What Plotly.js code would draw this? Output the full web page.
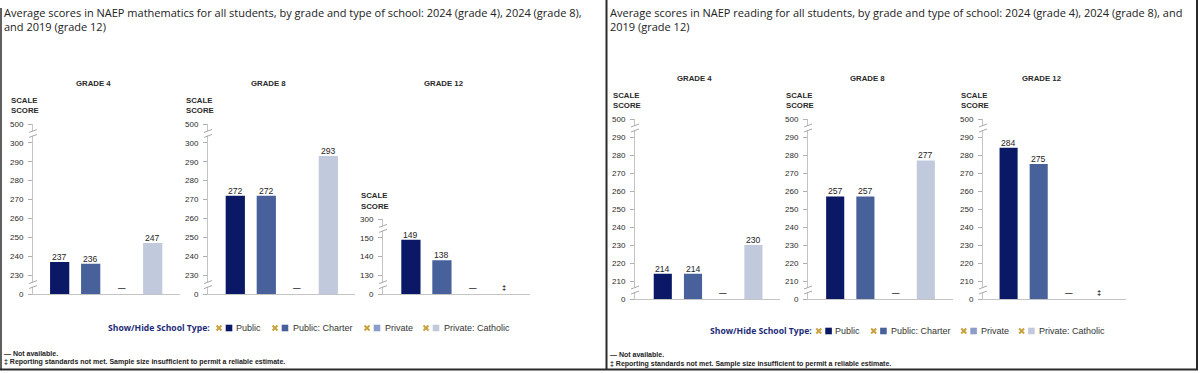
<!DOCTYPE html>
<html><head><meta charset="utf-8">
<script src="https://cdn.plot.ly/plotly-3.0.1.min.js"></script>
<style>html,body{margin:0;padding:0;background:#fff;}#chart{width:1200px;height:373px;}</style>
</head><body><div id="chart"></div>
<script>
// ---------------- DATA ----------------
const schoolTypes = ['Public', 'Public: Charter', 'Private', 'Private: Catholic'];
const gradeLabels = ['GRADE 4', 'GRADE 8', 'GRADE 12'];

const mathTitleLines = ['Average scores in NAEP mathematics for all students, by grade and type of school: 2024 (grade 4), 2024 (grade 8),', 'and 2019 (grade 12)'];
const readTitleLines = ['Average scores in NAEP reading for all students, by grade and type of school: 2024 (grade 4), 2024 (grade 8), and', '2019 (grade 12)'];

const mathGrade4 = [237, 236, null, 247];
const mathGrade8 = [272, 272, null, 293];
const mathGrade12 = [149, 138, null, null];
const mathGrade4Notes = ['', '', '—', ''];
const mathGrade8Notes = ['', '', '—', ''];
const mathGrade12Notes = ['', '', '—', '‡'];

const readGrade4 = [214, 214, null, 230];
const readGrade8 = [257, 257, null, 277];
const readGrade12 = [284, 275, null, null];
const readGrade4Notes = ['', '', '—', ''];
const readGrade8Notes = ['', '', '—', ''];
const readGrade12Notes = ['', '', '—', '‡'];

const mathTicks48 = [230, 240, 250, 260, 270, 280, 290, 300];
const mathTicks12 = [130, 140, 150];
const readTicks = [210, 220, 230, 240, 250, 260, 270, 280, 290];
const tickBottomLabel = '0';
const mathTop48 = '500', mathTop12 = '300', readTop = '500';

const axisTitleLines = ['SCALE', 'SCORE'];
const legendHeading = 'Show/Hide School Type:';
const footnotes = ['— Not available.', '‡ Reporting standards not met. Sample size insufficient to permit a reliable estimate.'];

// ---------------- STYLE / LAYOUT ----------------
const W = 1200, H = 373;
const px = x => x / W, py = y => 1 - y / H;
const SANS = 'Liberation Sans, Arial, Helvetica, sans-serif';
const TITLEF = 'Open Sans, Noto Sans, sans-serif';
const typeColors = ['#0b1866', '#48619b', '#8d9dc9', '#c1c9dc'];
const gold = '#c9a13e';
const axisGray = '#c4c4c4';

const panels = [
  {vals: mathGrade4, notes: mathGrade4Notes, lin: mathTicks48, top: mathTop48, grade: gradeLabels[0], x0: 33, x1: 180, yt: 124, yb: 294, xr: [-0.86, 3.88], bw: 0.62, gy: 83},
  {vals: mathGrade8, notes: mathGrade8Notes, lin: mathTicks48, top: mathTop48, grade: gradeLabels[1], x0: 208, x1: 355, yt: 124, yb: 294, xr: [-0.88, 3.86], bw: 0.62, gy: 83},
  {vals: mathGrade12, notes: mathGrade12Notes, lin: mathTicks12, top: mathTop12, grade: gradeLabels[2], x0: 383, x1: 530, yt: 219, yb: 294, xr: [-0.9, 3.84], bw: 0.62, gy: 83},
  {vals: readGrade4, notes: readGrade4Notes, lin: readTicks, top: readTop, grade: gradeLabels[0], x0: 635, x1: 780, yt: 119, yb: 299, xr: [-0.92, 3.88], bw: 0.6, gy: 78},
  {vals: readGrade8, notes: readGrade8Notes, lin: readTicks, top: readTop, grade: gradeLabels[1], x0: 808, x1: 953, yt: 119, yb: 299, xr: [-0.9, 3.9], bw: 0.6, gy: 78},
  {vals: readGrade12, notes: readGrade12Notes, lin: readTicks, top: readTop, grade: gradeLabels[2], x0: 983, x1: 1126, yt: 119, yb: 299, xr: [-0.85, 3.9], bw: 0.6, gy: 78}
];

const data = [];
const annotations = [];
const shapes = [];
const layout = {
  width: W, height: H, margin: {l: 0, r: 0, t: 0, b: 0},
  paper_bgcolor: '#fff', plot_bgcolor: 'rgba(0,0,0,0)',
  showlegend: false, hovermode: false, bargap: 0.2,
  font: {family: SANS, color: '#333'}
};

function ann(x, y, text, font, xanchor, extra) {
  annotations.push(Object.assign({xref: 'paper', yref: 'paper', x: px(x), y: py(y), text: text, showarrow: false,
    xanchor: xanchor || 'left', yanchor: 'middle', font: font, borderpad: 0}, extra || {}));
}

panels.forEach((p, i) => {
  const k = i === 0 ? '' : String(i + 1);
  const step = p.lin[1] - p.lin[0];
  const lo = p.lin[0] - step, hi = p.lin[p.lin.length - 1] + step;
  layout['xaxis' + k] = {domain: [px(p.x0), px(p.x1)], range: p.xr, anchor: 'y' + k, type: 'category',
    showticklabels: false, ticks: '', showgrid: false, zeroline: false, showline: true, linecolor: axisGray, linewidth: 1, fixedrange: true};
  layout['yaxis' + k] = {domain: [py(p.yb), py(p.yt)], range: [lo, hi], anchor: 'x' + k,
    tickmode: 'array', tickvals: [lo].concat(p.lin, [hi]), ticktext: [tickBottomLabel].concat(p.lin.map(String), [p.top]),
    ticks: 'outside', ticklen: 4, tickcolor: '#b0b0b0', tickwidth: 1, ticklabelstandoff: 3,
    tickfont: {family: SANS, size: 8, color: '#2a2a2a'},
    showline: true, linecolor: axisGray, linewidth: 1, showgrid: false, zeroline: false, fixedrange: true};
  data.push({type: 'bar', x: schoolTypes, y: p.vals, xaxis: 'x' + k, yaxis: 'y' + k, width: p.bw,
    marker: {color: typeColors, line: {width: 0}}, hoverinfo: 'skip'});
  // value labels just above the bar tops
  p.vals.forEach((v, j) => {
    if (v == null) return;
    annotations.push({xref: 'x' + k, yref: 'y' + k, x: schoolTypes[j], y: v, yanchor: 'bottom', xanchor: 'center',
      text: String(v), showarrow: false, borderpad: 0, yshift: -1, font: {family: SANS, size: 8.6, color: '#1e1e1e'}});
  });
  // notes (not available / reporting standards)
  p.notes.forEach((n, j) => {
    if (!n) return;
    annotations.push({xref: 'x' + k, yref: 'y' + k, x: schoolTypes[j], y: lo, yanchor: 'bottom', xanchor: 'center',
      text: '<b>' + n + '</b>', showarrow: false, borderpad: 0, yshift: 1, font: {family: SANS, size: 7.5, color: '#222'}});
  });
  // axis breaks
  [lo + step / 2, hi - step / 2].forEach(v => {
    shapes.push({type: 'rect', xref: 'paper', yref: 'y' + k, xsizemode: 'pixel', ysizemode: 'pixel', xanchor: px(p.x0), yanchor: v,
      x0: -2, x1: 2, y0: -2.2, y1: 2.2, fillcolor: '#fff', line: {width: 0}, layer: 'above'});
    shapes.push({type: 'path', xref: 'paper', yref: 'y' + k, xsizemode: 'pixel', ysizemode: 'pixel', xanchor: px(p.x0), yanchor: v,
      path: 'M-4,-4 L4,-1 M-4,1 L4,4', line: {color: '#a8a8a8', width: 1}, layer: 'above'});
  });
  // grade label
  ann((p.x0 + p.x1) / 2 - 13, p.gy, '<b>' + p.grade + '</b>', {family: SANS, size: 7.8, color: '#2a2a2a'}, 'center');
  // axis title
  ann(p.x0 - 23, p.yt - 23.5, '<b>' + axisTitleLines[0] + '</b>', {family: SANS, size: 7.8, color: '#2a2a2a'}, 'left');
  ann(p.x0 - 23, p.yt - 13, '<b>' + axisTitleLines[1] + '</b>', {family: SANS, size: 7.8, color: '#2a2a2a'}, 'left');
});

// titles
const titleFont = {family: TITLEF, size: 11, color: '#222'};
ann(3, 12, mathTitleLines[0], titleFont, 'left');
ann(3, 26, mathTitleLines[1], titleFont, 'left');
ann(609, 12, readTitleLines[0], titleFont, 'left');
ann(609, 26, readTitleLines[1], titleFont, 'left');

// legends
function legendRow(pos, y) {
  ann(pos.head, y, '<b>' + legendHeading + '</b>', {family: TITLEF, size: 8.6, color: '#1e2d78'}, 'left');
  schoolTypes.forEach((t, j) => {
    const cx = pos.cross[j], sx = pos.sq[j];
    shapes.push({type: 'line', xref: 'paper', yref: 'paper', x0: px(cx - 2.5), x1: px(cx + 2.5), y0: py(y - 2.5), y1: py(y + 2.5), line: {color: gold, width: 2}});
    shapes.push({type: 'line', xref: 'paper', yref: 'paper', x0: px(cx - 2.5), x1: px(cx + 2.5), y0: py(y + 2.5), y1: py(y - 2.5), line: {color: gold, width: 2}});
    shapes.push({type: 'rect', xref: 'paper', yref: 'paper', x0: px(sx - 3.3), x1: px(sx + 3.3), y0: py(y + 3.3), y1: py(y - 3.3), fillcolor: typeColors[j], line: {width: 0}});
    ann(pos.txt[j], y, t, {family: SANS, size: 9, color: '#333'}, 'left');
  });
}
const leftLegend = {head: 107, cross: [219, 275, 367, 426], sq: [229, 285, 377, 436], txt: [235, 292, 384, 443]};
const rightLegend = {head: 709, cross: leftLegend.cross.map(v => 709 + (v - 107) * 0.98), sq: leftLegend.sq.map(v => 709 + (v - 107) * 0.98), txt: leftLegend.txt.map(v => 709 + (v - 107) * 0.98)};
legendRow(leftLegend, 328);
legendRow(rightLegend, 331);

// footnotes
const footFont = {family: SANS, size: 7, color: '#222'};
ann(3, 353, '<b>' + footnotes[0] + '</b>', footFont, 'left');
ann(3, 362, '<b>' + footnotes[1] + '</b>', footFont, 'left');
ann(609, 354, '<b>' + footnotes[0] + '</b>', footFont, 'left');
ann(609, 363.5, '<b>' + footnotes[1] + '</b>', footFont, 'left');

// panel borders
const bc = '#2a2a2a';
shapes.push({type: 'line', xref: 'paper', yref: 'paper', x0: px(1), x1: px(1), y0: py(8), y1: py(369.5), line: {color: bc, width: 1.5}});
shapes.push({type: 'line', xref: 'paper', yref: 'paper', x0: px(606.5), x1: px(606.5), y0: py(0), y1: py(369.5), line: {color: bc, width: 2}});
shapes.push({type: 'line', xref: 'paper', yref: 'paper', x0: px(1197), x1: px(1197), y0: py(0), y1: py(369.5), line: {color: bc, width: 2}});
shapes.push({type: 'line', xref: 'paper', yref: 'paper', x0: px(0), x1: px(1198), y0: py(369.5), y1: py(369.5), line: {color: bc, width: 2}});

layout.annotations = annotations;
layout.shapes = shapes;
Plotly.newPlot('chart', data, layout, {staticPlot: true, displayModeBar: false});
</script></body></html>
